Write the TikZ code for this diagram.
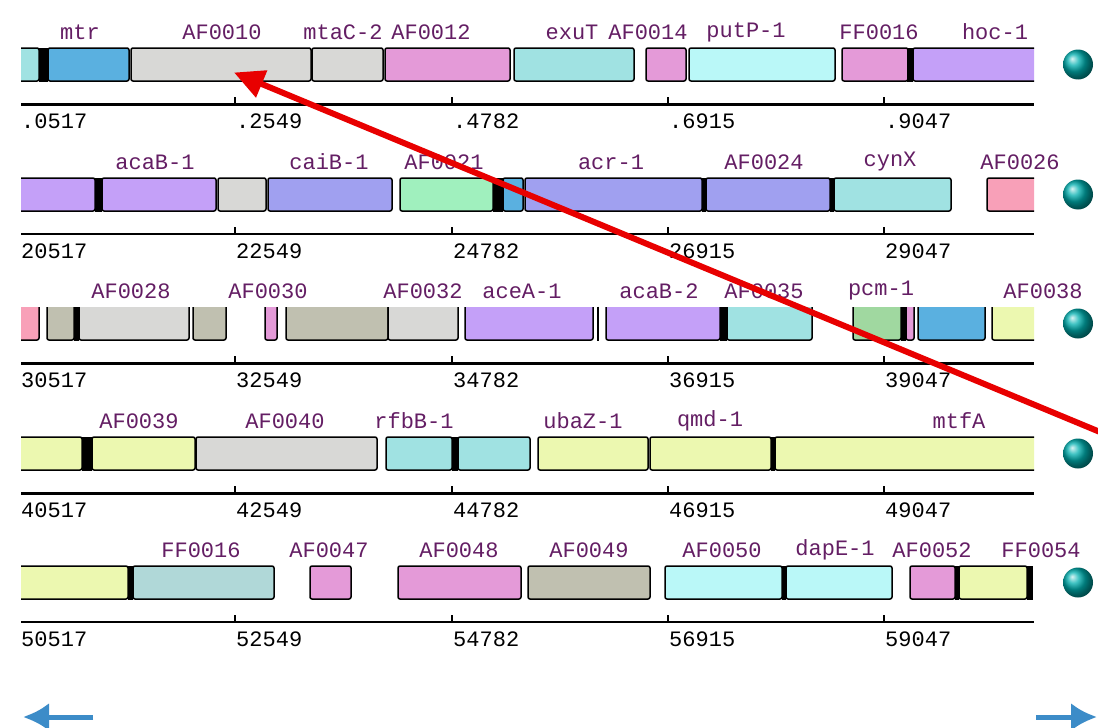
\documentclass[tikz,border=0pt]{standalone}
\usepackage{fontspec}
\newfontfamily\monof{Liberation Mono}
\usetikzlibrary{arrows.meta}
\definecolor{cCyan}{RGB}{160,226,226}
\definecolor{cLCyan}{RGB}{186,248,248}
\definecolor{cBlue}{RGB}{90,176,224}
\definecolor{cGray}{RGB}{216,216,214}
\definecolor{cOrchid}{RGB}{228,154,216}
\definecolor{cLav}{RGB}{196,160,248}
\definecolor{cPeri}{RGB}{160,160,240}
\definecolor{cMint}{RGB}{160,240,190}
\definecolor{cPink}{RGB}{248,160,184}
\definecolor{cKhaki}{RGB}{192,192,176}
\definecolor{cLGreen}{RGB}{160,216,160}
\definecolor{cYellow}{RGB}{236,248,176}
\definecolor{cTeal}{RGB}{176,216,216}
\definecolor{cLabel}{RGB}{100,30,100}
\definecolor{cRed}{RGB}{232,0,0}
\definecolor{cNav}{RGB}{60,140,200}
\definecolor{cBall}{RGB}{0,175,175}
\tikzset{
  gene/.style={draw=black, line width=1.5pt, rounded corners=2pt, inner sep=0pt, outer sep=0pt},
  genenotop/.style={inner sep=0pt, outer sep=0pt},
  geneline/.style={draw=black, line width=1.5pt, rounded corners=2pt},
  lab/.style={font=\monof\fontsize{22}{22}\selectfont, text=cLabel, inner sep=0pt},
  tk/.style={font=\monof\fontsize{22}{22}\selectfont, text=black, inner sep=0pt, anchor=west},
  sphere/.style={circle, minimum size=30pt, inner sep=0pt, ball color=cBall},
  redarrow/.style={draw=cRed, line width=6pt, -{Triangle[length=30pt,width=28pt]}},
  navarrow/.style={draw=cNav, line width=5pt, -{Latex[length=26pt,width=28pt]}}
}
\newcommand\gbox[4]{%
  \pgfmathsetmacro\gw{#3-#2}\pgfmathsetmacro\gx{(#2+#3)/2}\pgfmathsetmacro\gy{64.5+\rb}%
  \node[gene, fill=#4, minimum width=\gw pt, minimum height=33pt] (#1) at (\gx,\gy) {};}
\newcommand\gopen[4]{%
  \pgfmathsetmacro\gw{#3-#2}\pgfmathsetmacro\gx{(#2+#3)/2}\pgfmathsetmacro\gy{64.5+\rb}%
  \node[genenotop, fill=#4, minimum width=\gw pt, minimum height=33pt] (#1) at (\gx,\gy) {};
  \draw[geneline] (#1.north west) -- (#1.south west) -- (#1.south east) -- (#1.north east);}
\newcommand\blk[2]{\fill[black] (#1,{47.5+\rb}) rectangle (#2,{81.5+\rb});}
\newcommand\lab[3]{\node[lab] (#1) at (#2,{32+\rb}) {#3};}
\newcommand\myaxis[1]{%
  \draw[line width=#1] (21,{104+\rb}) -- (1034,{104+\rb});
  \foreach \t in {235,452,668,884} \draw[line width=1.3pt] (\t,{104+\rb}) -- ++(0,-7);}
\begin{document}
\begin{tikzpicture}[x=1pt,y=-1pt]
\fill[white] (0,0) rectangle (1098,728);
\useasboundingbox (0,0) rectangle (1098,728);
% ---------------- boxes (clipped to track) ----------------
\begin{scope}
\clip (21,0) rectangle (1034,728);
% row 1
\def\rb{0}
\gbox{g0008}{10}{39}{cCyan}
\blk{39}{48}
\gbox{gmtr}{48}{129}{cBlue}
\gbox{g0010}{131}{311}{cGray}
\gbox{gmtaC}{312}{383}{cGray}
\gbox{g0012}{385}{510}{cOrchid}
\gbox{gexuT}{514}{634}{cCyan}
\gbox{g0014}{646}{686}{cOrchid}
\gbox{gputP}{689}{835}{cLCyan}
\gbox{g0016}{842}{908}{cOrchid}
\blk{907}{913}
\gbox{ghoc}{913}{1045}{cLav}
% row 2
\def\rb{130}
\gbox{g0018}{10}{95}{cLav}
\blk{95}{102}
\gbox{gacaBa}{102}{216}{cLav}
\gbox{g0020}{218}{266}{cGray}
\gbox{gcaiB}{268}{392}{cPeri}
\gbox{g0021}{400}{493}{cMint}
\blk{493}{503}
\gbox{g0022}{503}{523}{cBlue}
\gbox{gacr}{525}{702}{cPeri}
\blk{702}{706}
\gbox{g0024}{706}{830}{cPeri}
\blk{830}{834}
\gbox{gcynX}{834}{951}{cCyan}
\gbox{g0026}{987}{1045}{cPink}
% row 3 (no top border)
\def\rb{259}
\gopen{g0027}{10}{39}{cPink}
\gopen{g0027b}{47}{74}{cKhaki}
\blk{74}{79}
\gopen{g0028}{79}{189}{cGray}
\gopen{g0029}{193}{226}{cKhaki}
\gopen{g0030}{265}{277}{cOrchid}
\gopen{g0031}{286}{388}{cKhaki}
\gopen{g0032}{388}{458}{cGray}
\gopen{gaceA}{465}{593}{cLav}
\draw[line width=2.5pt] (598,{47.5+\rb}) -- (598,{81.5+\rb});
\gopen{gacaBb}{606}{720}{cLav}
\blk{720}{727}
\gopen{g0035}{727}{812}{cCyan}
\gopen{gpcm}{853}{901}{cLGreen}
\blk{901}{906}
\gopen{g0036b}{906}{914}{cOrchid}
\gopen{g0037}{918}{985}{cBlue}
\gopen{g0038}{992}{1045}{cYellow}
% row 4
\def\rb{389}
\gbox{g0038b}{10}{82}{cYellow}
\blk{82}{92}
\gbox{g0039}{92}{195}{cYellow}
\gbox{g0040}{196}{377}{cGray}
\gbox{grfbB}{386}{452}{cCyan}
\blk{452}{458}
\gbox{g0042}{458}{530}{cCyan}
\gbox{gubaZ}{538}{648}{cYellow}
\gbox{gqmd}{650}{771}{cYellow}
\blk{771}{775}
\gbox{gmtfA}{775}{1045}{cYellow}
% row 5
\def\rb{518}
\gbox{g0045}{10}{128}{cYellow}
\blk{128}{133}
\gbox{g0046}{133}{274}{cTeal}
\gbox{g0047}{310}{351}{cOrchid}
\gbox{g0048}{398}{521}{cOrchid}
\gbox{g0049}{528}{650}{cKhaki}
\gbox{g0050}{665}{782}{cLCyan}
\blk{782}{786}
\gbox{gdapE}{786}{892}{cLCyan}
\gbox{g0052}{910}{955}{cOrchid}
\blk{955}{959}
\gbox{g0054}{959}{1027}{cYellow}
\blk{1027}{1033}
\end{scope}
% ---------------- labels, axes, spheres ----------------
\def\rb{0}
\lab{lmtr}{80}{mtr}
\lab{l0010}{222}{AF0010}
\lab{lmtaC}{343}{mtaC-2}
\lab{l0012}{431}{AF0012}
\lab{lexuT}{572}{exuT}
\lab{l0014}{648}{AF0014}
\lab{lputP}{746}{putP-1}
\lab{l0016}{879}{FF0016}
\lab{lhoc}{995}{hoc-1}
\myaxis{3pt}
\node[tk] (t1a) at (21,{121+\rb}) {.0517};
\node[tk] (t1b) at (236,{121+\rb}) {.2549};
\node[tk] (t1c) at (453,{121+\rb}) {.4782};
\node[tk] (t1d) at (669,{121+\rb}) {.6915};
\node[tk] (t1e) at (885,{121+\rb}) {.9047};
\node[sphere] (s1) at (1078,{64.5+\rb}) {};
\def\rb{130}
\lab{lacaBa}{155}{acaB-1}
\lab{lcaiB}{329}{caiB-1}
\lab{l0021}{444}{AF0021}
\lab{lacr}{611}{acr-1}
\lab{l0024}{764}{AF0024}
\lab{lcynX}{890}{cynX}
\lab{l0026}{1020}{AF0026}
\myaxis{1.8pt}
\node[tk] (t2a) at (21,{121+\rb}) {20517};
\node[tk] (t2b) at (236,{121+\rb}) {22549};
\node[tk] (t2c) at (453,{121+\rb}) {24782};
\node[tk] (t2d) at (669,{121+\rb}) {26915};
\node[tk] (t2e) at (885,{121+\rb}) {29047};
\node[sphere] (s2) at (1078,{64.5+\rb}) {};
\def\rb{259}
\lab{l0028}{131}{AF0028}
\lab{l0030}{268}{AF0030}
\lab{l0032}{423}{AF0032}
\lab{laceA}{522}{aceA-1}
\lab{lacaBb}{659}{acaB-2}
\lab{l0035}{764}{AF0035}
\lab{lpcm}{881}{pcm-1}
\lab{l0038}{1043}{AF0038}
\myaxis{3pt}
\node[tk] (t3a) at (21,{121+\rb}) {30517};
\node[tk] (t3b) at (236,{121+\rb}) {32549};
\node[tk] (t3c) at (453,{121+\rb}) {34782};
\node[tk] (t3d) at (669,{121+\rb}) {36915};
\node[tk] (t3e) at (885,{121+\rb}) {39047};
\node[sphere] (s3) at (1078,{64.5+\rb}) {};
\def\rb{389}
\lab{l0039}{139}{AF0039}
\lab{l0040}{285}{AF0040}
\lab{lrfbB}{414}{rfbB-1}
\lab{lubaZ}{583}{ubaZ-1}
\lab{lqmd}{710}{qmd-1}
\lab{lmtfA}{959}{mtfA}
\myaxis{3pt}
\node[tk] (t4a) at (21,{121+\rb}) {40517};
\node[tk] (t4b) at (236,{121+\rb}) {42549};
\node[tk] (t4c) at (453,{121+\rb}) {44782};
\node[tk] (t4d) at (669,{121+\rb}) {46915};
\node[tk] (t4e) at (885,{121+\rb}) {49047};
\node[sphere] (s4) at (1078,{64.5+\rb}) {};
\def\rb{518}
\lab{l0046}{201}{FF0016}
\lab{l0047}{329}{AF0047}
\lab{l0048}{459}{AF0048}
\lab{l0049}{589}{AF0049}
\lab{l0050}{722}{AF0050}
\lab{ldapE}{835}{dapE-1}
\lab{l0052}{932}{AF0052}
\lab{l0054}{1041}{FF0054}
\myaxis{1.8pt}
\node[tk] (t5a) at (21,{121+\rb}) {50517};
\node[tk] (t5b) at (236,{121+\rb}) {52549};
\node[tk] (t5c) at (453,{121+\rb}) {54782};
\node[tk] (t5d) at (669,{121+\rb}) {56915};
\node[tk] (t5e) at (885,{121+\rb}) {59047};
\node[sphere] (s5) at (1078,{64.5+\rb}) {};
% ---------------- navigation arrows ----------------
\coordinate (lefttail) at (93,717);
\coordinate (lefttip) at (23,717);
\coordinate (righttail) at (1036,717);
\coordinate (righttip) at (1097,717);
\draw[navarrow] (lefttail) -- (lefttip);
\draw[navarrow] (righttail) -- (righttip);
% ---------------- red pointer arrow ----------------
\coordinate (redstart) at (1100,432);
\draw[redarrow] (redstart) -- ([xshift=13pt,yshift=-8pt]g0010.center);
\end{tikzpicture}
\end{document}
